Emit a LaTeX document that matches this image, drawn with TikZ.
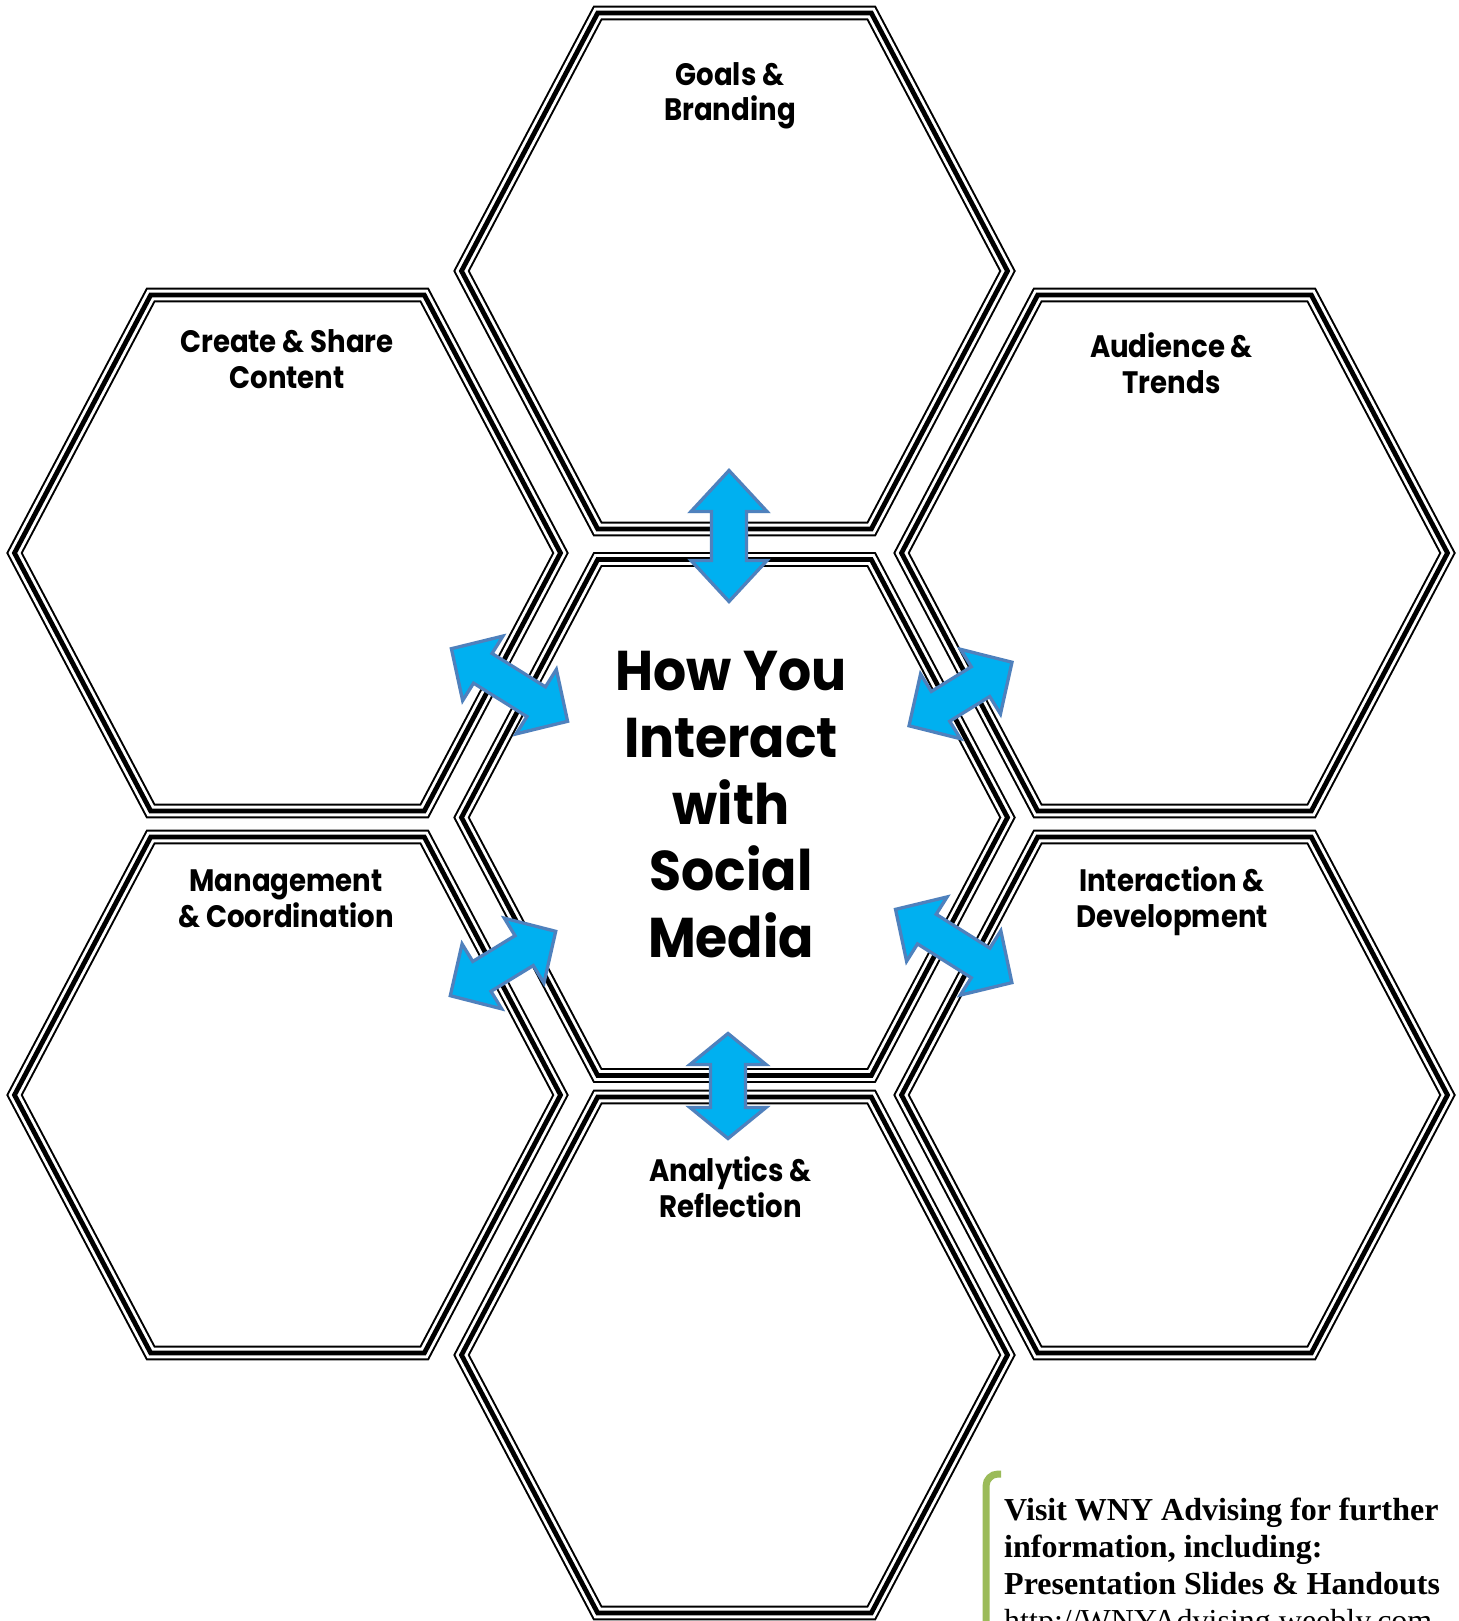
\documentclass[tikz,border=0pt]{standalone}
\usepackage{fontspec}
\setmainfont{Liberation Serif}
\newfontfamily\lblfont[FakeStretch=0.89]{Poppins}
\newfontfamily\ctrfont[FakeStretch=0.93]{Poppins}
\definecolor{arrowfill}{RGB}{0,176,240}
\definecolor{arrowline}{RGB}{79,129,189}
\definecolor{bracketgreen}{RGB}{155,187,89}
\newcommand{\dblarrow}[7]{%
 \begin{scope}[shift={(#1,#2)}, rotate=#3]
  \draw[blockarrow] ({-#4/2},0) -- ({-#4/2+#5},{#6/2}) -- ({-#4/2+#5},{#7/2}) -- ({#4/2-#5},{#7/2}) -- ({#4/2-#5},{#6/2}) -- ({#4/2},0) -- ({#4/2-#5},{-#6/2}) -- ({#4/2-#5},{-#7/2}) -- ({-#4/2+#5},{-#7/2}) -- ({-#4/2+#5},{-#6/2}) -- cycle;
 \end{scope}}
\begin{document}
\begin{tikzpicture}[x=1pt,y=-1pt,
  hexouter/.style={line width=14.6pt, black, line join=miter},
  hexgap/.style={line width=10.6pt, white, line join=miter},
  hexthick/.style={line width=4.8pt, black, line join=miter},
  blockarrow/.style={fill=arrowfill, draw=arrowline, line width=3.3pt, line join=miter},
  lbl/.style={font=\lblfont\bfseries\fontsize{31}{36}\selectfont, anchor=base, inner sep=0pt},
  ctr/.style={font=\ctrfont\bfseries\fontsize{56}{66}\selectfont, anchor=base, inner sep=0pt},
  info/.style={font=\bfseries\fontsize{32}{37}\selectfont, anchor=base west, inner sep=0pt},
  greenbar/.style={draw=bracketgreen, line width=7pt, rounded corners=12pt},
  hexa/.pic={
    \draw[hexouter] (-273,0) -- (-136.8,-258) -- (136.8,-258) -- (273,0) -- (136.8,258) -- (-136.8,258) -- cycle;
    \draw[hexgap] (-273,0) -- (-136.8,-258) -- (136.8,-258) -- (273,0) -- (136.8,258) -- (-136.8,258) -- cycle;
    \draw[hexthick] (-273,0) -- (-136.8,-258) -- (136.8,-258) -- (273,0) -- (136.8,258) -- (-136.8,258) -- cycle;
  }
]
\useasboundingbox (0,0) rectangle (1458,1621);
\clip (0,0) rectangle (1458,1621);
\fill[white] (0,0) rectangle (1458,1621);

% hexagons
\pic (goalsHex) at (734.5,271) {hexa};
\pic (centerHex) at (734.5,817.5) {hexa};
\pic (analyticsHex) at (734.5,1355) {hexa};
\pic (createHex) at (287.5,553) {hexa};
\pic (manageHex) at (287.5,1095) {hexa};
\pic (audienceHex) at (1174.5,553) {hexa};
\pic (interactHex) at (1174.5,1095) {hexa};

% block arrows
\dblarrow{729}{536}{90}{131}{41}{76}{35}
\dblarrow{728}{1086}{90}{105}{31}{76}{35}
\dblarrow{509.5}{685}{-32}{137}{37}{76}{35}
\dblarrow{960.5}{694}{31.7}{121}{37}{76}{35}
\dblarrow{503}{963.5}{31.4}{123.5}{37}{76}{35}
\dblarrow{953.7}{946}{-32.2}{137.5}{37}{76}{35}

% labels
\node[lbl] (goals1) at (730,86) {Goals \&};
\node[lbl] (goals2) at (730,121) {Branding};
\node[lbl] (create1) at (287,352) {Create \& Share};
\node[lbl] (create2) at (287,388) {Content};
\node[lbl] (aud1) at (1171.5,357) {Audience \&};
\node[lbl] (aud2) at (1171.5,393) {Trends};
\node[lbl] (man1) at (286,891) {Management};
\node[lbl] (man2) at (286,927.5) {\& Coordination};
\node[lbl] (int1) at (1172,891) {Interaction \&};
\node[lbl] (int2) at (1172,927.5) {Development};
\node[lbl] (ana1) at (730.5,1181) {Analytics \&};
\node[lbl] (ana2) at (730.5,1217) {Reflection};

% center text
\node[ctr] (c1) at (731,690.7) {How You};
\node[ctr] (c2) at (731,757.9) {Interact};
\node[ctr] (c3) at (731,824) {with};
\node[ctr] (c4) at (731,890.3) {Social};
\node[ctr] (c5) at (731,957.5) {Media};

% info box
\coordinate (barBottom) at (986,1640);
\coordinate (barCorner) at (986,1474);
\coordinate (barEnd) at (1001,1474);
\draw[greenbar] (barBottom) -- (barCorner) -- (barEnd);
\node[info] (info1) at (1004,1520) {Visit WNY Advising for further};
\node[info] (info2) at (1004,1557) {information, including:};
\node[info] (info3) at (1004,1594) {Presentation Slides \& Handouts};
\node[info, font=\fontsize{32}{37}\selectfont] (info4) at (1004,1631) {http://WNYAdvising.weebly.com};
\end{tikzpicture}
\end{document}
